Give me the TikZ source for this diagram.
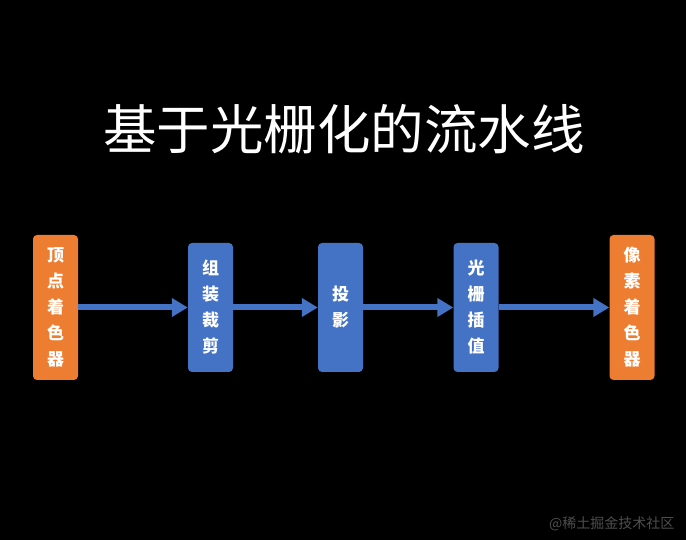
\documentclass[tikz,border=0pt]{standalone}
\usepackage{fontspec}
\usepackage{tikz}
\usetikzlibrary{arrows.meta, positioning}
\newfontfamily\cjk{Noto Sans CJK SC}
\definecolor{stageorange}{HTML}{ED7D31}
\definecolor{stageblue}{HTML}{4472C4}
\definecolor{markgray}{HTML}{4E4E4E}

\tikzset{
  stagebox/.style={rounded corners=4pt, minimum width=45pt, inner sep=0pt,
    align=center, text=white, font=\cjk\bfseries\fontsize{17}{26}\selectfont},
  shaderbox/.style={stagebox, fill=stageorange, minimum height=145pt},
  fixedbox/.style={stagebox, fill=stageblue, minimum height=129pt},
  flow/.style={stageblue, line width=6pt,
    -{Triangle[length=16pt, width=18pt]}}
}

\begin{document}
\begin{tikzpicture}[x=1pt, y=1pt]
      \fill[black] (0,0) rectangle (686,540);
      \node[white, font=\cjk\fontsize{53.5}{60}\selectfont] (title) at (344, 411)
        {基于光栅化的流水线};

      % pipeline stages
      \node[shaderbox] (vertex) at (55.5, 232.5) {顶\\点\\着\\色\\器};
      \node[fixedbox] (assemble) at (210.5, 232.5) {组\\装\\裁\\剪};
      \node[fixedbox] (project) at (340.5, 232.5) {投\\影};
      \node[fixedbox] (raster) at (476, 232.5) {光\\栅\\插\\值};
      \node[shaderbox] (pixel) at (632, 232.5) {像\\素\\着\\色\\器};

      \draw[flow] (vertex) -- (assemble);
      \draw[flow] (assemble) -- (project);
      \draw[flow] (project) -- (raster);
      \draw[flow] (raster) -- (pixel);

      \node[markgray, anchor=east, font=\cjk\fontsize{14}{16}\selectfont]
        (mark) at (678, 16) {@稀土掘金技术社区};
    \end{tikzpicture}
\end{document}
